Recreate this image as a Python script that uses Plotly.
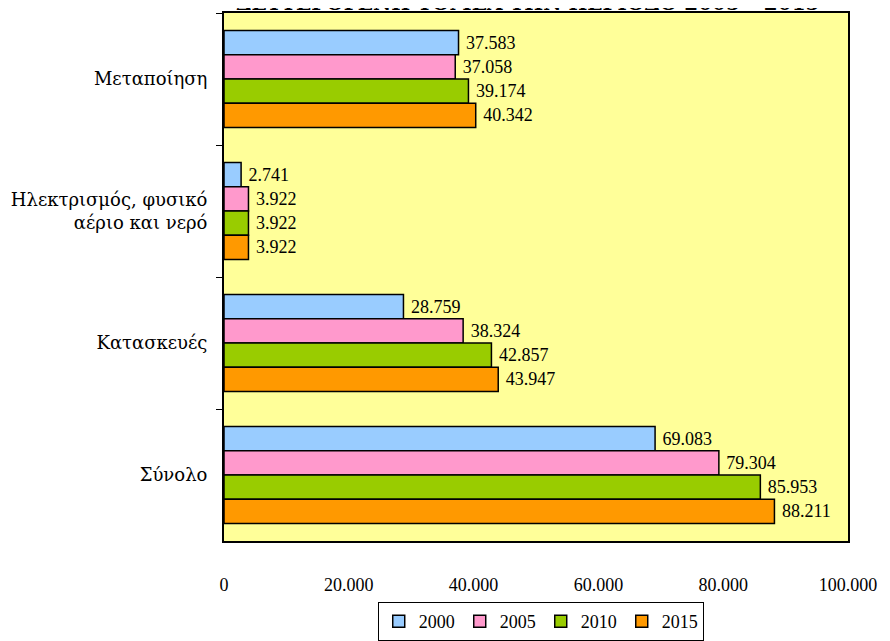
import plotly.graph_objects as go

categories = ["Μεταποίηση", "Ηλεκτρισμός, φυσικό<br>αέριο και νερό", "Κατασκευές", "Σύνολο"]
years = ["2000", "2005", "2010", "2015"]
v2000 = [37583, 2741, 28759, 69083]
v2005 = [37058, 3922, 38324, 79304]
v2010 = [39174, 3922, 42857, 85953]
v2015 = [40342, 3922, 43947, 88211]
series = [v2000, v2005, v2010, v2015]
colors = ["#99CCFF", "#FF99CC", "#99CC00", "#FF9900"]
x_ticks = [0, 20000, 40000, 60000, 80000, 100000]
title_text = "ΔΕΥΤΕΡΟΓΕΝΗ ΤΟΜΕΑ ΤΗΝ ΠΕΡΙΟΔΟ 2005 – 2015"

FONT = "Liberation Serif"
GREEK = "DejaVu Serif"

fig = go.Figure()
for yr, vals, col in zip(years, series, colors):
    fig.add_trace(go.Bar(
        y=categories, x=vals, name=yr, orientation="h",
        marker=dict(color=col, line=dict(color="black", width=1.5)),
        text=vals, texttemplate="\u00a0%{x:,d}", textposition="outside",
        textfont=dict(family=FONT, size=18, color="black"),
        cliponaxis=False,
    ))

fig.add_annotation(
    text="<b>" + title_text + "</b>", xref="paper", yref="paper",
    x=0.487, y=1.0, xanchor="center", yanchor="bottom", yshift=-4,
    showarrow=False, font=dict(family=GREEK, size=20, color="black"),
)

fig.update_layout(
    width=882, height=633,
    barmode="group", bargap=0.265, bargroupgap=0,
    separators=",.",
    paper_bgcolor="white", plot_bgcolor="#FFFF99",
    margin=dict(l=216, r=42, t=5, b=100),
    font=dict(family=FONT, size=18, color="black"),
    showlegend=True,
    legend=dict(orientation="h", xref="container", yref="container",
                x=0.604, xanchor="center", y=0.0616, yanchor="top",
                bordercolor="black", borderwidth=1, bgcolor="white",
                font=dict(family=FONT, size=18), traceorder="normal",
                itemwidth=30),
    xaxis=dict(range=[0, 100000], tickvals=x_ticks, tickformat=",d", automargin=False,
               showgrid=False, zeroline=False, showline=True, mirror=True,
               linecolor="black", linewidth=2, ticks="", ticklabelstandoff=26,
               tickfont=dict(family=FONT, size=18)),
    yaxis=dict(autorange="reversed", showgrid=False, showline=True, mirror=True, automargin=False,
               linecolor="black", linewidth=2, ticks="outside", tickson="boundaries",
               ticklen=6, tickcolor="black", ticklabelstandoff=11,
               tickfont=dict(family=GREEK, size=18)),
)

fig.write_html("out.html")
